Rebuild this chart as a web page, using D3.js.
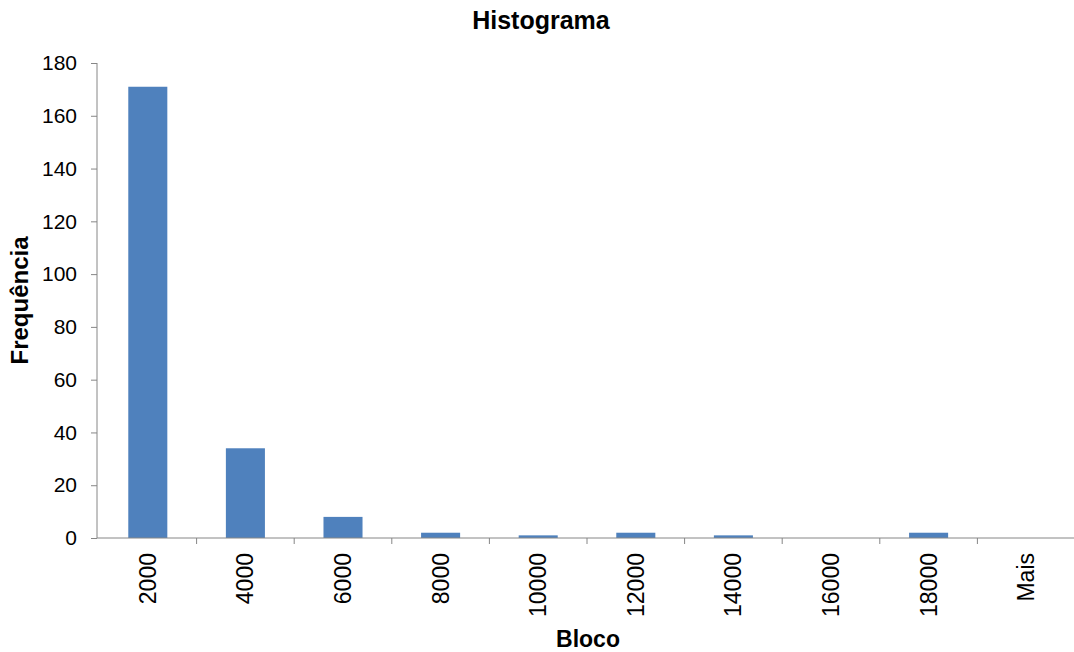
<!DOCTYPE html>
<html>
<head>
<meta charset="utf-8">
<script src="https://cdn.jsdelivr.net/npm/d3@7"></script>
<style>
  body { margin: 0; background: #fff; }
  text { font-family: "Liberation Sans", Arial, sans-serif; fill: #000; }
</style>
</head>
<body>
<svg class="chart" width="1074" height="652"></svg>
<script>
// data
const categories = ["2000", "4000", "6000", "8000", "10000", "12000", "14000", "16000", "18000", "Mais"];
const frequencies = [171, 34, 8, 2, 1, 2, 1, 0, 2, 0];
const yTicks = [0, 20, 40, 60, 80, 100, 120, 140, 160, 180];

const width = 1074, height = 652;
const margin = {top: 63, right: 0, bottom: 114, left: 97};
const axisColor = "#868686";
const barColor = "#4F81BD";

const svg = d3.select(".chart");

const x = d3.scaleBand()
    .domain(categories)
    .range([margin.left + 2, width + 1])
    .paddingInner(0.6)
    .paddingOuter(0.3);

const y = d3.scaleLinear()
    .domain([0, 180])
    .range([height - margin.bottom, margin.top]);

const step = x.step();

// bars
svg.append("g")
  .selectAll("rect")
  .data(categories.map((c, i) => ({cat: c, value: frequencies[i]})))
  .enter().append("rect")
    .attr("x", d => x(d.cat))
    .attr("y", d => y(d.value))
    .attr("width", x.bandwidth())
    .attr("height", d => y(0) - y(d.value))
    .attr("fill", barColor);

// y axis
const yAxis = svg.append("g")
    .attr("transform", `translate(${margin.left},0)`)
    .call(d3.axisLeft(y).tickValues(yTicks).tickSize(6).tickPadding(14));
yAxis.selectAll("line, path").attr("stroke", axisColor);
yAxis.select(".domain").attr("d", `M0,${y(180)}V${y(0)}`);
yAxis.selectAll("text").attr("font-size", 21).attr("font-family", "Liberation Sans, Arial, sans-serif");

// x axis
const xAxis = svg.append("g")
    .attr("transform", `translate(0,${y(0)})`)
    .call(d3.axisBottom(x).tickSize(0).tickPadding(0));
xAxis.select(".domain").attr("stroke", axisColor).attr("d", `M${margin.left},0H${width}`);
xAxis.selectAll(".tick text")
    .attr("font-size", 23)
    .attr("font-family", "Liberation Sans, Arial, sans-serif")
    .attr("text-anchor", "end")
    .attr("transform", "rotate(-90)")
    .attr("x", -15)
    .attr("y", 0)
    .attr("dy", "0.35em");

// category boundary ticks
svg.append("g")
  .selectAll("line")
  .data(categories)
  .enter().append("line")
    .attr("x1", d => x(d) + x.bandwidth() + step * 0.3)
    .attr("x2", d => x(d) + x.bandwidth() + step * 0.3)
    .attr("y1", y(0))
    .attr("y2", y(0) + 6)
    .attr("stroke", axisColor);

// title and axis labels
svg.append("text")
    .attr("x", 541).attr("y", 29)
    .attr("text-anchor", "middle")
    .attr("font-size", 25).attr("font-weight", "bold")
    .text("Histograma");

svg.append("text")
    .attr("transform", `translate(28,${(y(0) + y(180)) / 2}) rotate(-90)`)
    .attr("text-anchor", "middle")
    .attr("font-size", 24).attr("font-weight", "bold")
    .text("Frequência");

svg.append("text")
    .attr("x", 588).attr("y", 647)
    .attr("text-anchor", "middle")
    .attr("font-size", 23).attr("font-weight", "bold")
    .text("Bloco");
</script>
</body>
</html>
